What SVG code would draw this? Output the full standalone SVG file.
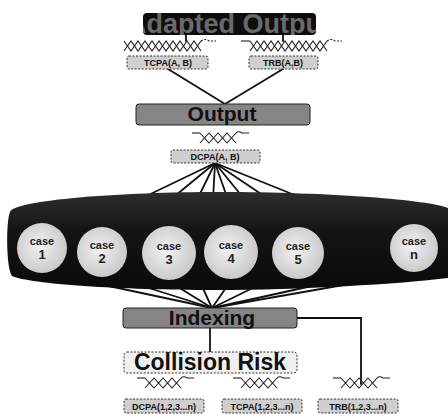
<svg xmlns="http://www.w3.org/2000/svg" xmlns:xlink="http://www.w3.org/1999/xlink" width="448" height="418" viewBox="0 0 448 418">
  <style>
    .ln{stroke:#111;stroke-width:1.8;fill:none;stroke-linecap:round}
    .tw{stroke:#222;stroke-width:1.1;fill:none}
    .lbl{fill:#cfcfcf;stroke:#333;stroke-width:1;stroke-dasharray:2 1.5}
    .lt{font-family:"Liberation Sans",Arial,sans-serif;font-weight:bold;font-size:9px;fill:#111;text-anchor:middle}
    .bar{fill:#858585;stroke:#222;stroke-width:1}
    .bt{font-family:"Liberation Sans",Arial,sans-serif;font-weight:bold;font-size:21px;fill:#111;text-anchor:middle}
    .ct{font-family:"Liberation Sans",Arial,sans-serif;font-weight:bold;font-size:11px;fill:#222;text-anchor:middle}
    .cn{font-family:"Liberation Sans",Arial,sans-serif;font-weight:bold;font-size:13px;fill:#222;text-anchor:middle}
    .case{fill:url(#caseFill)}
  </style>
  <defs>
    <radialGradient id="caseFill" cx="0.45" cy="0.45" r="0.6">
      <stop offset="0" stop-color="#f2f2f2"/>
      <stop offset="1" stop-color="#c6c6c6"/>
    </radialGradient>
    <linearGradient id="bandFill" x1="0" y1="0" x2="0" y2="1">
      <stop offset="0" stop-color="#2e2e2e"/>
      <stop offset="0.4" stop-color="#141414"/>
      <stop offset="1" stop-color="#0a0a0a"/>
    </linearGradient>
    <clipPath id="titleClip">
      <rect x="143" y="13" width="173" height="22" rx="4"/>
    </clipPath>
    <!-- twisted-pair marks: short (4 crossings) and long (11 crossings) -->
    <g id="tw4" class="tw">
      <path d="M0,0 H8"/>
      <path d="M8,0 L17,10 L26,0 L35,10 L44,0"/>
      <path d="M8,10 L17,0 L26,10 L35,0 L44,10"/>
      <path d="M44,0 Q47,-2.5 50,0 H57"/>
    </g>
    <g id="tw11" class="tw">
      <path d="M0,0 L7,10 L14,0 L21,10 L28,0 L35,10 L42,0 L49,10 L56,0 L63,10 L70,0 L77,10"/>
      <path d="M0,10 L7,0 L14,10 L21,0 L28,10 L35,0 L42,10 L49,0 L56,10 L63,0 L70,10 L77,0"/>
      <path d="M77,0 Q81,-3 85,0 H92" stroke-dasharray="2 1.5"/>
    </g>
  </defs>

  <rect width="448" height="418" fill="#ffffff"/>

  <!-- connectors -->
  <g id="connectors">
    <line class="ln" x1="186" y1="35" x2="186" y2="41"/>
    <line class="ln" x1="283" y1="35" x2="283" y2="41"/>
    <line class="ln" x1="168" y1="69" x2="225" y2="104"/>
    <line class="ln" x1="283" y1="69" x2="225" y2="104"/>
    <!-- fan from DCPA(A, B) into the case band -->
    <line class="ln" x1="215" y1="163" x2="138" y2="200"/>
    <line class="ln" x1="215" y1="163" x2="170" y2="200"/>
    <line class="ln" x1="215" y1="163" x2="197" y2="200"/>
    <line class="ln" x1="215" y1="163" x2="213" y2="200"/>
    <line class="ln" x1="215" y1="163" x2="228" y2="200"/>
    <line class="ln" x1="215" y1="163" x2="245" y2="200"/>
    <line class="ln" x1="215" y1="163" x2="270" y2="200"/>
    <line class="ln" x1="215" y1="163" x2="307" y2="200"/>
    <!-- fan from the case band into Indexing -->
    <line class="ln" x1="90" y1="282" x2="212" y2="308"/>
    <line class="ln" x1="130" y1="282" x2="212" y2="308"/>
    <line class="ln" x1="170" y1="282" x2="212" y2="308"/>
    <line class="ln" x1="200" y1="282" x2="212" y2="308"/>
    <line class="ln" x1="230" y1="282" x2="212" y2="308"/>
    <line class="ln" x1="265" y1="282" x2="212" y2="308"/>
    <line class="ln" x1="330" y1="282" x2="212" y2="308"/>
    <line class="ln" x1="372" y1="280" x2="212" y2="308"/>
    <line class="ln" x1="210" y1="328" x2="210" y2="352"/>
    <polyline class="ln" points="297,318 361,318 361,384"/>
  </g>

  <!-- top banner -->
  <g id="adapted-output">
    <rect x="143" y="13" width="173" height="22" rx="4" fill="#0e0e0e"/>
    <text x="229" y="33" clip-path="url(#titleClip)" font-family="'Liberation Sans',Arial,sans-serif" font-weight="bold" font-size="27" fill="#6a6a6a" text-anchor="middle">Adapted Output</text>
  </g>

  <g id="tcpa-ab">
    <use xlink:href="#tw11" x="124" y="41"/>
    <rect class="lbl" x="127" y="56" width="81" height="13" rx="2"/>
    <text class="lt" x="168" y="66">TCPA(A, B)</text>
  </g>
  <g id="trb-ab">
    <path class="tw" d="M241,41 H250"/>
    <use xlink:href="#tw11" x="250" y="41"/>
    <rect class="lbl" x="249" y="56" width="69" height="13" rx="2"/>
    <text class="lt" x="283" y="66">TRB(A,B)</text>
  </g>

  <g id="output">
    <rect class="bar" x="136" y="104" width="174" height="21" rx="3"/>
    <text class="bt" x="222" y="121">Output</text>
  </g>

  <g id="dcpa-ab">
    <use xlink:href="#tw4" x="192" y="133"/>
    <rect class="lbl" x="171" y="150" width="89" height="13" rx="2"/>
    <text class="lt" x="215" y="160">DCPA(A, B)</text>
  </g>

  <!-- case band -->
  <g id="case-band">
    <path d="M10,212 C14,200 120,192 220,192 C330,192 430,200 448,208 L448,278 C400,284 300,290 215,290 C120,290 30,284 12,276 C6,268 6,220 10,212 Z" fill="url(#bandFill)"/>
  </g>
  <g id="case-1">
    <circle class="case" cx="42" cy="248" r="25"/>
    <text class="ct" x="42" y="245">case</text>
    <text class="cn" x="42" y="259">1</text>
  </g>
  <g id="case-2">
    <circle class="case" cx="102" cy="252" r="25"/>
    <text class="ct" x="102" y="249">case</text>
    <text class="cn" x="102" y="263">2</text>
  </g>
  <g id="case-3">
    <circle class="case" cx="169" cy="253" r="27"/>
    <text class="ct" x="169" y="250">case</text>
    <text class="cn" x="169" y="264">3</text>
  </g>
  <g id="case-4">
    <circle class="case" cx="231" cy="252" r="27"/>
    <text class="ct" x="231" y="249">case</text>
    <text class="cn" x="231" y="263">4</text>
  </g>
  <g id="case-5">
    <circle class="case" cx="298" cy="253" r="26"/>
    <text class="ct" x="298" y="250">case</text>
    <text class="cn" x="298" y="264">5</text>
  </g>
  <g id="case-n">
    <circle class="case" cx="414" cy="248" r="24"/>
    <text class="ct" x="414" y="245">case</text>
    <text class="cn" x="414" y="259">n</text>
  </g>

  <g id="indexing">
    <rect class="bar" x="123" y="308" width="174" height="20" rx="3" fill="#8e8e8e"/>
    <text class="bt" x="212" y="325">Indexing</text>
  </g>

  <g id="collision-risk">
    <rect x="124" y="352" width="173" height="21" rx="3" fill="#f0f0f0" stroke="#333" stroke-width="1" stroke-dasharray="2 1.5"/>
    <text x="210" y="370" font-family="'Liberation Sans',Arial,sans-serif" font-weight="bold" font-size="23" fill="#111" text-anchor="middle">Collision Risk</text>
  </g>

  <g id="dcpa-n">
    <use xlink:href="#tw4" x="137" y="378"/>
    <rect class="lbl" x="124" y="399" width="80" height="14" rx="2"/>
    <text class="lt" x="164" y="410">DCPA(1,2,3...n)</text>
  </g>
  <g id="tcpa-n">
    <use xlink:href="#tw4" x="233" y="378"/>
    <rect class="lbl" x="222" y="399" width="80" height="14" rx="2"/>
    <text class="lt" x="262" y="410">TCPA(1,2,3...n)</text>
  </g>
  <g id="trb-n">
    <use xlink:href="#tw4" x="333" y="378"/>
    <rect class="lbl" x="318" y="399" width="80" height="14" rx="2"/>
    <text class="lt" x="358" y="410">TRB(1,2,3...n)</text>
  </g>
</svg>
